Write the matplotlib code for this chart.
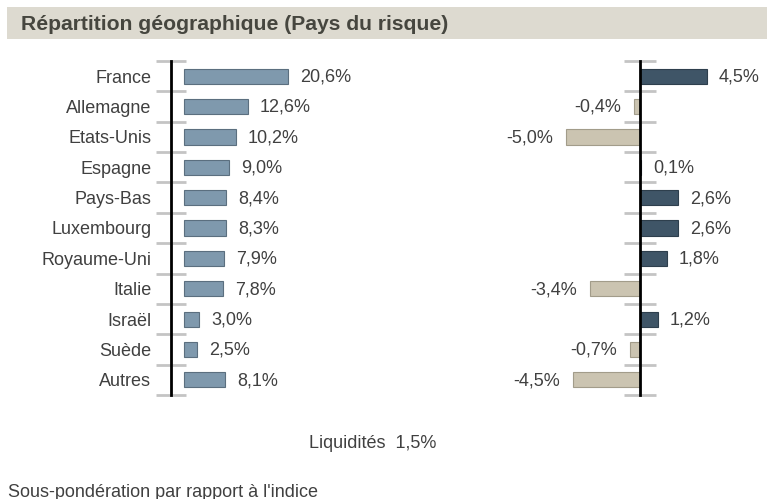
import matplotlib
matplotlib.use("Agg")
import matplotlib.pyplot as plt
from matplotlib.patches import Rectangle
import numpy as np

countries = ["France", "Allemagne", "Etats-Unis", "Espagne", "Pays-Bas", "Luxembourg",
             "Royaume-Uni", "Italie", "Israël", "Suède", "Autres"]
weights = [20.6, 12.6, 10.2, 9.0, 8.4, 8.3, 7.9, 7.8, 3.0, 2.5, 8.1]
relative = [4.5, -0.4, -5.0, 0.1, 2.6, 2.6, 1.8, -3.4, 1.2, -0.7, -4.5]
cash_label = "Liquidités"
cash_value = 1.5

W, H = 767, 499
fig = plt.figure(figsize=(W / 100, H / 100), dpi=100)
fig.patch.set_facecolor("white")
plt.rcParams['font.family'] = ['Liberation Sans', 'DejaVu Sans']
txt = "#404040"
fs = 13

def fx(px):
    return px / W

def fy(py):
    return 1 - py / H

# title band
fig.patches.append(Rectangle((fx(7), fy(39)), 1 - fx(7), 32 / H, transform=fig.transFigure,
                             facecolor="#dddad0", edgecolor="none", zorder=0))
fig.text(fx(21), fy(24), "Répartition géographique (Pays du risque)", fontsize=15.2,
         fontweight="bold", color="#46463f", va="center", ha="left")

n = len(countries)
y = np.arange(n)
top, bot = 61, 395

# left axes
zero_l, sc_l = 184, 5.05
xmin_l, xmax_l = -2.6, 30
axl = fig.add_axes([fx(zero_l + xmin_l * sc_l), fy(bot), (xmax_l - xmin_l) * sc_l / W, (bot - top) / H])
axl.barh(y, weights, height=0.5, color="#7f99ad", edgecolor="#5b6f7f", linewidth=0.8)
axl.set_xlim(xmin_l, xmax_l)
axl.set_ylim(n - 0.5, -0.5)
for s in ["top", "right", "bottom"]:
    axl.spines[s].set_visible(False)
axl.spines["left"].set_linewidth(2)
axl.spines["left"].set_color("black")
axl.set_xticks([])
axl.set_yticks(y)
axl.set_yticklabels(countries, fontsize=fs, color=txt)
axl.tick_params(axis="y", which="major", length=0, pad=14)
axl.set_yticks(np.arange(n + 1) - 0.5, minor=True)
axl.tick_params(axis="y", which="minor", length=22, width=2, color="#c4c4c4", direction="inout")
axl.patch.set_alpha(0)
for yi, v in zip(y, weights):
    axl.text(v + 12 / sc_l, yi + 0.03, f"{v:.1f}%".replace(".", ","), fontsize=fs, color=txt,
             va="center", ha="left", clip_on=False)

# right axes
zero_r, sc_r = 640, 14.8
xmin_r, xmax_r = -6, 6
axr = fig.add_axes([fx(zero_r + xmin_r * sc_r), fy(bot), (xmax_r - xmin_r) * sc_r / W, (bot - top) / H])
cols = ["#3f5567" if v >= 0 else "#cbc4b1" for v in relative]
ecs = ["#2e3f4d" if v >= 0 else "#a29c8a" for v in relative]
axr.barh(y, relative, height=0.5, color=cols, edgecolor=ecs, linewidth=0.8)
axr.set_xlim(xmin_r, xmax_r)
axr.set_ylim(n - 0.5, -0.5)
for s in ["top", "right", "bottom"]:
    axr.spines[s].set_visible(False)
axr.spines["left"].set_position(("data", 0))
axr.spines["left"].set_linewidth(2)
axr.spines["left"].set_color("black")
axr.set_xticks([])
axr.set_yticks([])
axr.set_yticks(np.arange(n + 1) - 0.5, minor=True)
axr.tick_params(axis="y", which="minor", length=23, width=2, color="#c4c4c4", direction="inout",
                labelleft=False)
axr.patch.set_alpha(0)
for yi, v in zip(y, relative):
    lab = f"{v:.1f}%".replace(".", ",")
    if v >= 0:
        axr.text(v + 12 / sc_r, yi + 0.03, lab, fontsize=fs, color=txt, va="center", ha="left", clip_on=False)
    else:
        axr.text(v - 13 / sc_r, yi + 0.03, lab, fontsize=fs, color=txt, va="center", ha="right", clip_on=False)

fig.text(fx(373), fy(443), f"{cash_label}  {cash_value:.1f}%".replace(".", ","), fontsize=fs,
         color=txt, ha="center", va="center")
fig.text(fx(8), fy(497), "Sous-pondération par rapport à l'indice", fontsize=fs,
         color=txt, ha="left", va="baseline")

fig.savefig("out.png", dpi=100, facecolor="white")
